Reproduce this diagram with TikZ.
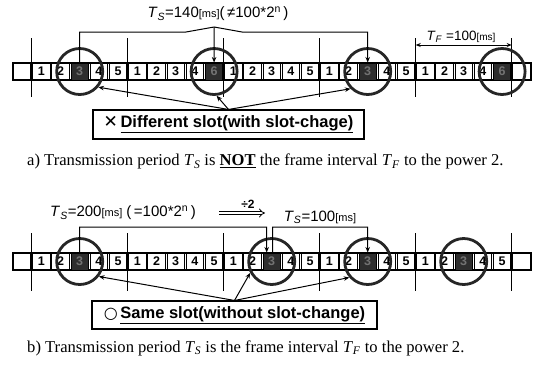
\documentclass[tikz,border=0pt]{standalone}
\usepackage{fontspec}
\setmainfont{Liberation Serif}
\setsansfont{Liberation Sans}
\newfontfamily\djv{DejaVu Sans}
\usetikzlibrary{arrows.meta,calc}
\begin{document}
\begin{tikzpicture}[x=1pt,y=-1pt,
  cellw/.style={draw,line width=1pt,minimum width=17.4pt,minimum height=17pt,inner sep=0pt,font=\sffamily\bfseries\fontsize{12.5}{12.5}\selectfont},
  celld/.style={cellw,fill=black!82,text=black!55},
  ring/.style={draw=black!85,line width=2.8pt,circle,minimum size=46pt,inner sep=0pt},
  fline/.style={line width=1.5pt},
  conn/.style={line width=1pt},
  tip/.style={-{Stealth[length=5.5pt,width=4.5pt]}},
  lbl/.style={font=\sffamily\fontsize{15}{15}\selectfont,inner sep=0pt},
  note/.style={draw,line width=1.1pt,inner sep=0pt,font=\sffamily\bfseries\fontsize{16.5}{16.5}\selectfont},
  capt/.style={font=\fontsize{16.6}{18}\selectfont,inner sep=0pt,anchor=base west}
]
\fill[white] (0,0) rectangle (534,365);
\useasboundingbox (0,0) rectangle (534,365);

% ---------- a) ----------
\draw[line width=1.2pt] (12.5,63) rectangle (530.9,80);
\foreach \l/\s [count=\i from 0] in {{}/cellw,1/cellw,2/cellw,3/celld,4/cellw,5/cellw,1/cellw,2/cellw,3/cellw,4/cellw,6/celld,1/cellw,2/cellw,3/cellw,4/cellw,5/cellw,1/cellw,2/cellw,3/celld,4/cellw,5/cellw,1/cellw,2/cellw,3/cellw,4/cellw,6/celld,{}/cellw}
  \node[\s] (t\i) at ({12.5+(\i+0.5)*19.2},71.5) {\l};
\foreach \k in {0,...,5} \draw[fline] ({31.7+96*\k},38) -- ({31.7+96*\k},97);
\node[ring] (c1) at (t3) {};
\node[ring] (c2) at (t10) {};
\node[ring] (c3) at (t18) {};
\node[ring] (c4) at (t25) {};

\coordinate (apx) at (214.1,27);
\draw[conn,tip] (t3.north) |- (186,32) -- (apx) -- (242,32) -| (t18.north);
\draw[conn,tip] (apx) -- (t10.north);
\node[lbl] (ts140) at (218,14) {\textit{T}\textsubscript{\textit{S}}=140{\fontsize{11}{11}\selectfont[ms]}(\,≠100*2\textsuperscript{n}\,)};

\coordinate (tfl) at (415.7,45);
\coordinate (tfr) at (511.7,45);
\draw[conn,{Stealth[length=5pt,width=4pt]}-{Stealth[length=5pt,width=4pt]}] (tfl) -- (tfr);
\node[lbl,font=\sffamily\fontsize{13.5}{13.5}\selectfont] (tflbl) at (461,37) {\textit{T}\textsubscript{\textit{F}} =100{\fontsize{10}{10}\selectfont[ms]}};

\node[note,minimum width=271pt,minimum height=29pt] (diff) at (228.5,124.5) {{\djv\mdseries\fontsize{17}{17}\selectfont ✕}\,\underline{Different slot(with slot-chage)}};
\draw[conn,tip] (diff.north) -- (c1.-40);
\draw[conn,tip] (diff.north) -- (c2.-84);
\draw[conn,tip] (diff.north) -- (c3.-135);

\node[capt] (capa) at (27,165.5) {a) Transmission period \textit{T}\textsubscript{\textit{S}} is \textbf{\underline{NOT}} the frame interval \textit{T}\textsubscript{\textit{F}} to the power 2.};

% ---------- b) ----------
\draw[line width=1.2pt] (12.5,253) rectangle (530.9,270);
\foreach \l/\s [count=\i from 0] in {{}/cellw,1/cellw,2/cellw,3/celld,4/cellw,5/cellw,1/cellw,2/cellw,3/cellw,4/cellw,5/cellw,1/cellw,2/cellw,3/celld,4/cellw,5/cellw,1/cellw,2/cellw,3/celld,4/cellw,5/cellw,1/cellw,2/cellw,3/celld,4/cellw,5/cellw,{}/cellw}
  \node[\s] (b\i) at ({12.5+(\i+0.5)*19.2},261.5) {\l};
\foreach \k in {0,...,5} \draw[fline] ({31.7+96*\k},233) -- ({31.7+96*\k},291);
\node[ring] (d1) at (b3) {};
\node[ring] (d2) at (b13) {};
\node[ring] (d3) at (b18) {};
\node[ring] (d4) at (b23) {};

\draw[conn,tip] (b3.north) |- (266.7,227) -- ($(b13.north)+(-5,0)$);
\draw[conn,tip] ($(b13.north)+(1,0)$) |- (367.7,227) -- (b18.north);
\node[lbl] (ts200) at (123,213) {\textit{T}\textsubscript{\textit{S}}=200{\fontsize{11}{11}\selectfont[ms]} (\,=100*2\textsuperscript{n}\,)};
\coordinate (dl) at (219,213);
\coordinate (dr) at (265,213);
\draw[double,double distance=2.2pt,line width=0.8pt,-{Implies}] (dl) -- (dr);
\node[lbl,font=\sffamily\bfseries\fontsize{12}{12}\selectfont] (div) at (248,204) {÷2};
\node[lbl] (ts100) at (320,217) {\textit{T}\textsubscript{\textit{S}}=100{\fontsize{11}{11}\selectfont[ms]}};

\node[note,minimum width=285pt,minimum height=28pt] (same) at (234.5,315) {{\djv\fontsize{16}{16}\selectfont ○}\,\underline{Same slot(without slot-change)}};
\draw[conn,tip] (same.north) -- (d1.-38);
\draw[conn,tip] (same.north) -- (d2.-152);
\draw[conn,tip] (same.north) -- (d3.-139);

\node[capt] (capb) at (27,352) {b) Transmission period \textit{T}\textsubscript{\textit{S}} is the frame interval \textit{T}\textsubscript{\textit{F}} to the power 2.};
\end{tikzpicture}
\end{document}
